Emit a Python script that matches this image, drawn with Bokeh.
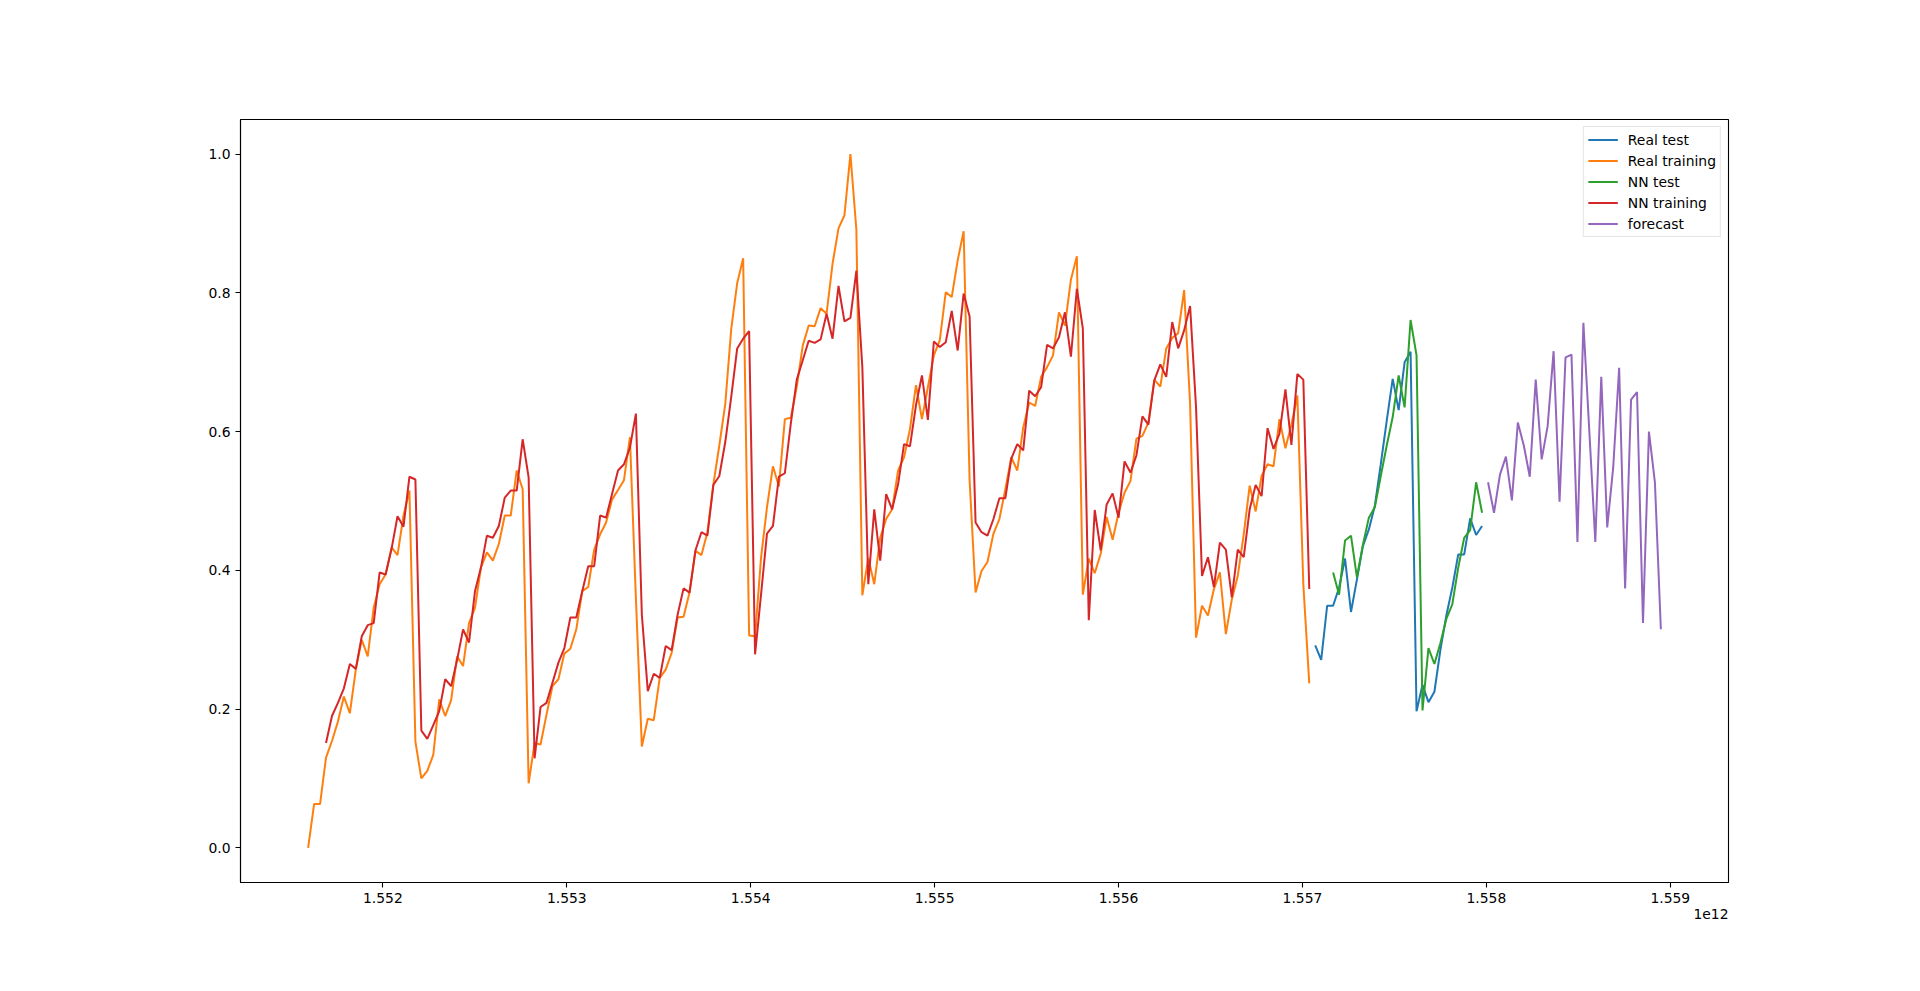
from bokeh.plotting import figure
from bokeh.models import (Range1d, FixedTicker, CustomJSTickFormatter, Title,
                          Legend, LegendItem)
from bokeh.embed import file_html
from bokeh.resources import INLINE

# sampling grid: timestamps in ms, one sample every 9 hours
T0 = 1551593700000
STEP = 32_400_000

real_training_start = 0
nn_training_start = 3
real_test_start = 169
nn_test_start = 172
forecast_start = 198

real_training = [
    0.000, 0.063, 0.063, 0.130, 0.154, 0.182, 0.218, 0.194, 0.257, 0.300,
    0.276, 0.346, 0.380, 0.394, 0.433, 0.422, 0.479, 0.515, 0.153, 0.100,
    0.111, 0.134, 0.214, 0.190, 0.213, 0.276, 0.262, 0.324, 0.346, 0.404,
    0.426, 0.414, 0.438, 0.479, 0.479, 0.544, 0.517, 0.093, 0.151, 0.149,
    0.192, 0.233, 0.243, 0.280, 0.287, 0.315, 0.370, 0.376, 0.430, 0.452,
    0.469, 0.502, 0.516, 0.530, 0.592, 0.360, 0.146, 0.186, 0.184, 0.245,
    0.257, 0.281, 0.332, 0.333, 0.368, 0.428, 0.422, 0.455, 0.524, 0.580,
    0.640, 0.748, 0.814, 0.850, 0.306, 0.305, 0.418, 0.491, 0.550, 0.521,
    0.618, 0.620, 0.665, 0.724, 0.753, 0.752, 0.778, 0.770, 0.842, 0.893,
    0.912, 1.000, 0.891, 0.364, 0.418, 0.380, 0.447, 0.474, 0.488, 0.544,
    0.563, 0.604, 0.667, 0.618, 0.664, 0.710, 0.732, 0.801, 0.794, 0.847,
    0.889, 0.530, 0.368, 0.399, 0.412, 0.453, 0.474, 0.517, 0.563, 0.544,
    0.606, 0.642, 0.637, 0.679, 0.693, 0.710, 0.772, 0.753, 0.819, 0.853,
    0.365, 0.417, 0.396, 0.424, 0.477, 0.444, 0.483, 0.512, 0.529, 0.590,
    0.594, 0.613, 0.675, 0.665, 0.720, 0.735, 0.742, 0.804, 0.640, 0.303,
    0.349, 0.335, 0.373, 0.397, 0.308, 0.358, 0.392, 0.452, 0.522, 0.485,
    0.536, 0.553, 0.550, 0.618, 0.576, 0.610, 0.652, 0.380, 0.237,
]

nn_training = [
    0.151, 0.190, 0.209, 0.230, 0.265, 0.258, 0.305, 0.321, 0.324, 0.397,
    0.394, 0.431, 0.478, 0.463, 0.535, 0.531, 0.169, 0.157, 0.177, 0.197,
    0.243, 0.233, 0.271, 0.315, 0.296, 0.370, 0.404, 0.450, 0.447, 0.464,
    0.505, 0.515, 0.515, 0.589, 0.534, 0.129, 0.203, 0.209, 0.238, 0.267,
    0.288, 0.332, 0.332, 0.370, 0.406, 0.406, 0.479, 0.476, 0.510, 0.544,
    0.553, 0.577, 0.626, 0.336, 0.226, 0.251, 0.245, 0.291, 0.285, 0.336,
    0.374, 0.368, 0.429, 0.455, 0.450, 0.523, 0.536, 0.585, 0.650, 0.720,
    0.734, 0.745, 0.279, 0.365, 0.453, 0.464, 0.535, 0.540, 0.612, 0.675,
    0.703, 0.731, 0.728, 0.733, 0.770, 0.734, 0.810, 0.759, 0.764, 0.832,
    0.693, 0.380, 0.488, 0.414, 0.510, 0.488, 0.524, 0.582, 0.579, 0.638,
    0.681, 0.617, 0.730, 0.722, 0.729, 0.774, 0.717, 0.799, 0.766, 0.469,
    0.455, 0.450, 0.474, 0.504, 0.504, 0.561, 0.582, 0.573, 0.659, 0.651,
    0.664, 0.725, 0.720, 0.736, 0.772, 0.708, 0.806, 0.749, 0.328, 0.487,
    0.429, 0.495, 0.511, 0.476, 0.557, 0.541, 0.566, 0.622, 0.610, 0.674,
    0.697, 0.679, 0.758, 0.720, 0.746, 0.781, 0.635, 0.392, 0.419, 0.376,
    0.440, 0.430, 0.361, 0.430, 0.419, 0.488, 0.523, 0.507, 0.605, 0.575,
    0.597, 0.661, 0.581, 0.683, 0.675, 0.373,
]

real_test = [
    0.292, 0.271, 0.349, 0.349, 0.375, 0.417, 0.340, 0.387, 0.435, 0.459,
    0.493, 0.553, 0.616, 0.676, 0.631, 0.700, 0.715, 0.197, 0.235, 0.210,
    0.225, 0.285, 0.335, 0.375, 0.423, 0.423, 0.475, 0.451, 0.464,
]

nn_test = [
    0.397, 0.365, 0.443, 0.450, 0.390, 0.437, 0.476, 0.491, 0.536, 0.580,
    0.621, 0.681, 0.635, 0.761, 0.710, 0.198, 0.288, 0.265, 0.295, 0.330,
    0.351, 0.404, 0.447, 0.458, 0.527, 0.483,
]

forecast = [
    0.527, 0.483, 0.538, 0.564, 0.501, 0.613, 0.580, 0.535, 0.675, 0.560,
    0.608, 0.716, 0.499, 0.707, 0.711, 0.441, 0.757, 0.600, 0.441, 0.679,
    0.462, 0.548, 0.692, 0.374, 0.646, 0.657, 0.324, 0.600, 0.527, 0.315,
]

x_ticks = [1.552e12, 1.553e12, 1.554e12, 1.555e12, 1.556e12, 1.557e12, 1.558e12, 1.559e12]
y_ticks = [0.0, 0.2, 0.4, 0.6, 0.8, 1.0]


def times(start, n):
    return [T0 + (start + i) * STEP for i in range(n)]


FONT = "DejaVu Sans"
FS = "13.9px"

x_min = T0
x_max = T0 + (forecast_start + len(forecast) - 1) * STEP
pad = 0.05 * (x_max - x_min)

p = figure(width=1920, height=991, output_backend="svg", toolbar_location=None,
           x_range=Range1d(x_min - pad, x_max + pad), y_range=Range1d(-0.05, 1.05),
           min_border_left=240, min_border_right=192, min_border_top=119,
           min_border_bottom=109)

p.xgrid.visible = False
p.ygrid.visible = False
p.outline_line_color = "black"
p.outline_line_width = 1.1
p.background_fill_color = "white"
p.border_fill_color = "white"

for ax in (p.xaxis[0], p.yaxis[0]):
    ax.axis_line_color = "black"
    ax.axis_line_width = 1.1
    ax.major_tick_line_color = "black"
    ax.major_tick_line_width = 1.1
    ax.major_tick_out = 5
    ax.major_tick_in = 0
    ax.minor_tick_line_color = None
    ax.major_label_text_font = FONT
    ax.major_label_text_font_size = FS
    ax.major_label_text_color = "black"
    ax.major_label_standoff = 5

p.xaxis.ticker = FixedTicker(ticks=x_ticks)
p.xaxis.formatter = CustomJSTickFormatter(code="return (tick/1e12).toFixed(3);")
p.yaxis.ticker = FixedTicker(ticks=y_ticks)
p.yaxis.formatter = CustomJSTickFormatter(code="return tick.toFixed(1);")

r_test = p.line(times(real_test_start, len(real_test)), real_test,
                line_color="#1f77b4", line_width=2)
r_train = p.line(times(real_training_start, len(real_training)), real_training,
                 line_color="#ff7f0e", line_width=2)
n_test = p.line(times(nn_test_start, len(nn_test)), nn_test,
                line_color="#2ca02c", line_width=2)
n_train = p.line(times(nn_training_start, len(nn_training)), nn_training,
                 line_color="#d62728", line_width=2)
r_fc = p.line(times(forecast_start, len(forecast)), forecast,
              line_color="#9467bd", line_width=2)

legend = Legend(items=[
    LegendItem(label="Real test", renderers=[r_test]),
    LegendItem(label="Real training", renderers=[r_train]),
    LegendItem(label="NN test", renderers=[n_test]),
    LegendItem(label="NN training", renderers=[n_train]),
    LegendItem(label="forecast", renderers=[r_fc]),
], location="top_right")
legend.margin = 7
legend.padding = 4
legend.spacing = 4
legend.label_height = 17
legend.glyph_height = 17
legend.glyph_width = 30
legend.label_standoff = 10
legend.label_text_font = FONT
legend.label_text_font_size = FS
legend.label_text_color = "black"
legend.border_line_color = "#cccccc"
legend.border_line_width = 1
legend.background_fill_color = "white"
legend.background_fill_alpha = 0.8
p.add_layout(legend)

offset_title = Title(text="1e12", align="right", text_font=FONT,
                     text_font_size=FS, text_font_style="normal",
                     text_color="black", standoff=3, offset=0)
p.add_layout(offset_title, "below")

open("out.html", "w").write(file_html(p, INLINE))
